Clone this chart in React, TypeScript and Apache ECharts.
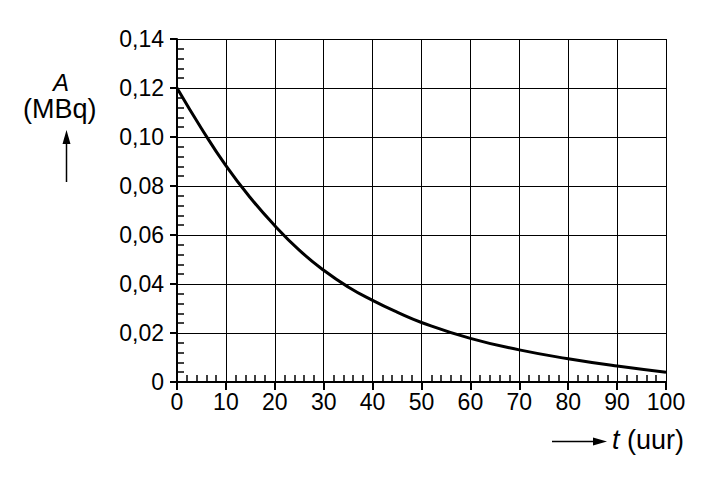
import React, { useEffect, useRef } from 'react';
import * as echarts from 'echarts';

// time in hours, activity in MBq
const times = [0, 5, 10, 15, 20, 25, 30, 35, 40, 45, 50, 60, 70, 80, 90, 100];
const activity = [0.12, 0.1035, 0.0883, 0.0752, 0.0638, 0.0538, 0.0456, 0.0388, 0.0333, 0.0285, 0.0243, 0.0178, 0.0131, 0.0095, 0.0065, 0.0040];

const FONT = '"Liberation Sans", Arial, sans-serif';

const fmtY = (v: number) => (v === 0 ? '0' : v.toFixed(2).replace('.', ','));

const App: React.FC = () => {
  const chartRef = useRef<HTMLDivElement | null>(null);

  useEffect(() => {
    document.body.style.margin = '0';
    if (!chartRef.current) return;
    const chart = echarts.init(chartRef.current, null, { renderer: 'svg' });

    const tickLabel = { color: '#000', fontSize: 23, fontFamily: FONT };

    chart.setOption({
      animation: false,
      backgroundColor: '#fff',
      grid: { left: 177, right: 51, top: 39, bottom: 98 },
      xAxis: [
        {
          type: 'value',
          min: 0,
          max: 100,
          interval: 10,
          axisLine: { lineStyle: { color: '#000', width: 2 } },
          axisTick: { show: true, length: 8, lineStyle: { color: '#000', width: 2 } },
          axisLabel: { ...tickLabel, margin: 8 },
          splitLine: { show: true, lineStyle: { color: '#000', width: 1 } },
        },
        {
          type: 'value',
          position: 'bottom',
          min: 0,
          max: 100,
          interval: 10,
          axisLine: { show: false },
          axisTick: { show: false, inside: true },
          minorTick: { show: true, splitNumber: 5, length: 7, lineStyle: { color: '#000', width: 1.5 } },
          axisLabel: { show: false },
          splitLine: { show: false },
        },
      ],
      yAxis: [
        {
          type: 'value',
          min: 0,
          max: 0.14,
          interval: 0.02,
          axisLine: { show: true, lineStyle: { color: '#000', width: 2 } },
          axisTick: { show: true, length: 7, lineStyle: { color: '#000', width: 2 } },
          axisLabel: { ...tickLabel, margin: 13, formatter: fmtY },
          splitLine: { show: true, lineStyle: { color: '#000', width: 1 } },
        },
        {
          type: 'value',
          position: 'left',
          min: 0,
          max: 0.14,
          interval: 0.02,
          axisLine: { show: false },
          axisTick: { show: false, inside: true },
          minorTick: { show: true, splitNumber: 5, length: 7, lineStyle: { color: '#000', width: 1.5 } },
          axisLabel: { show: false },
          splitLine: { show: false },
        },
      ],
      series: [
        {
          type: 'line',
          data: times.map((t, i) => [t, activity[i]]),
          smooth: 0.5,
          symbol: 'none',
          lineStyle: { color: '#000', width: 3 },
        },
      ],
      graphic: [
        {
          type: 'text',
          left: 53,
          top: 70,
          style: { text: 'A', fontSize: 24, fontStyle: 'italic', fontFamily: FONT, fill: '#000' },
        },
        {
          type: 'text',
          left: 23,
          top: 95,
          style: { text: '(MBq)', fontSize: 27, fontFamily: FONT, fill: '#000' },
        },
        {
          type: 'line',
          shape: { x1: 66.5, y1: 182, x2: 66.5, y2: 140 },
          style: { stroke: '#000', lineWidth: 1.5 },
        },
        {
          type: 'polygon',
          shape: { points: [[66.5, 130], [62.5, 144], [70.5, 144]] },
          style: { fill: '#000' },
        },
        {
          type: 'line',
          shape: { x1: 552, y1: 441.5, x2: 596, y2: 441.5 },
          style: { stroke: '#000', lineWidth: 1.5 },
        },
        {
          type: 'polygon',
          shape: { points: [[607, 441.5], [593, 437.5], [593, 445.5]] },
          style: { fill: '#000' },
        },
        {
          type: 'text',
          left: 612,
          top: 426,
          style: {
            text: '{i|t} (uur)',
            fontSize: 27,
            fontFamily: FONT,
            fill: '#000',
            rich: { i: { fontStyle: 'italic', fontSize: 27, fontFamily: FONT, fill: '#000' } },
          },
        },
      ],
    });

    return () => {
      chart.dispose();
    };
  }, []);

  return <div ref={chartRef} style={{ width: 717, height: 480 }} />;
};

export default App;
